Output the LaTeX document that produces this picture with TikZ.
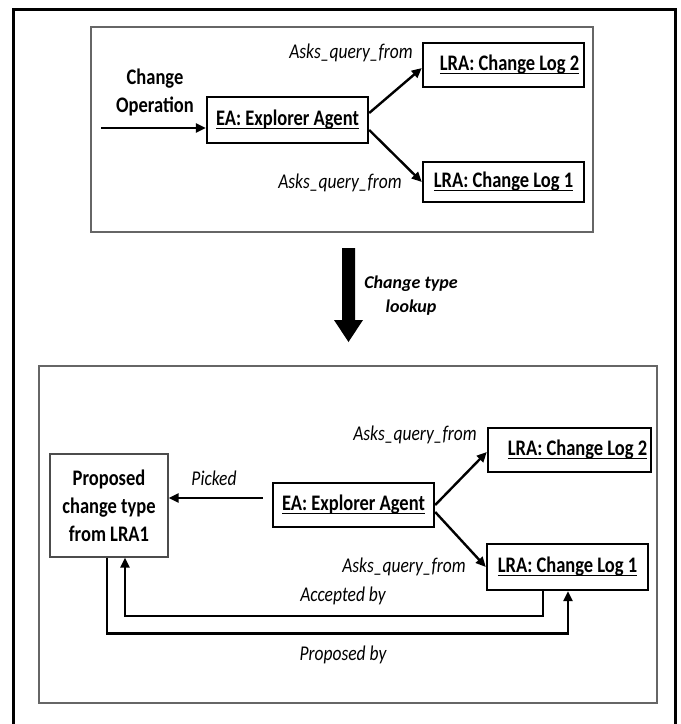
\documentclass[tikz,border=0pt]{standalone}
\usepackage{fontspec}
\usepackage{graphicx}
\setmainfont{Carlito}
\usetikzlibrary{arrows.meta,calc}
\newsavebox\ulbox
\newcommand{\myul}[1]{\sbox\ulbox{#1}\rlap{\rule[-2.5pt]{\wd\ulbox}{0.9pt}}\usebox\ulbox}
\newcommand{\vs}[1]{\scalebox{1}[1.2]{#1}}
\newcommand{\nols}{\lineskiplimit-30pt\relax}
\begin{document}
\begin{tikzpicture}[x=1pt,y=-1pt,
  agent/.style={draw=black, line width=2.4pt, inner sep=0pt, font=\fontsize{18.5}{22}\selectfont\bfseries},
  container/.style={draw=black!60, line width=1.8pt},
  arr/.style={line width=2.4pt, -{Triangle[length=10pt,width=9pt]}},
  lbl/.style={font=\fontsize{17.5}{21}\selectfont\itshape, inner sep=0pt},
]
\useasboundingbox (0,0) rectangle (681,724);
\draw[line width=3pt] (13.5,724) -- (13.5,9.5) -- (675.5,9.5) -- (675.5,724);
% containers
\draw[container] (91,27) rectangle (593,232);
\draw[container] (39,366) rectangle (657,703);
% top part
\node[agent, minimum width=161pt, minimum height=46pt] (ea1) at (287.5,120) {\vs{\myul{EA: Explorer Agent}}};
\node[agent, minimum width=161pt, minimum height=44pt] (lra2a) at (503.5,65) {\hspace*{12pt}\vs{\myul{LRA: Change Log 2}}};
\node[agent, minimum width=161pt, minimum height=40pt] (lra1a) at (503.5,182) {\vs{\myul{LRA: Change Log 1}}};
\node[font=\fontsize{18.5}{28}\selectfont\bfseries\nols, align=center] (chop) at (155,92) {\vs{Change}\\\vs{Operation}};
\coordinate (in) at (101,128);
\draw[arr] (in) -- (in -| ea1.west);
\draw[arr] ([yshift=7pt]ea1.east) -- ([yshift=-3pt]lra2a.west);
\draw[arr] ([yshift=-10pt]ea1.east) -- (lra1a.west);
\node[lbl] (aq1) at (351,53) {\vs{Asks\_query\_from}};
\node[lbl] (aq2) at (340,183) {\vs{Asks\_query\_from}};
% big arrow
\fill (342,248) -- (355,248) -- (355,320) -- (363,320) -- (348.5,342) -- (334,320) -- (342,320) -- cycle;
\node[font=\fontsize{18}{24}\selectfont\bfseries\itshape\nols, align=center] (ctl) at (411,296) {Change type\\lookup};
% bottom part
\node[agent, minimum width=161pt, minimum height=44pt] (ea2) at (353.5,505) {\vs{\myul{EA: Explorer Agent}}};
\node[agent, minimum width=163pt, minimum height=44pt] (lra2b) at (569.5,450) {\hspace*{16pt}\vs{\myul{LRA: Change Log 2}}};
\node[agent, minimum width=161pt, minimum height=46pt] (lra1b) at (567.5,567) {\vs{\myul{LRA: Change Log 1}}};
\node[draw=black!70, line width=1.3pt, minimum width=118pt, minimum height=103pt, align=center, font=\fontsize{18.5}{28}\selectfont\bfseries\nols] (prop) at (109,505.5) {\vs{Proposed}\\\vs{change type}\\\vs{from LRA1}};
\draw[arr] (ea2.east) -- ([yshift=-2pt]lra2b.west);
\draw[arr] ([yshift=-7pt]ea2.east) -- (lra1b.west);
\coordinate (pk) at ([xshift=-9pt,yshift=7pt]ea2.west);
\draw[arr] (pk) -- (pk -| prop.east);
\node[lbl] (picked) at (214,478) {\vs{Picked}};
\node[lbl] (aq3) at (415,435) {\vs{Asks\_query\_from}};
\node[lbl] (aq4) at (404,567) {\vs{Asks\_query\_from}};
\draw[arr] ([xshift=-24.5pt]lra1b.south) -- ++(0,25) -| ([xshift=16pt]prop.south);
\draw[arr] ([xshift=-2pt]prop.south) -- ++(0,76) -| ([xshift=0.5pt]lra1b.south);
\node[lbl] (acc) at (343,596) {\vs{Accepted by}};
\node[lbl] (prb) at (343,655) {\vs{Proposed by}};
\end{tikzpicture}
\end{document}
